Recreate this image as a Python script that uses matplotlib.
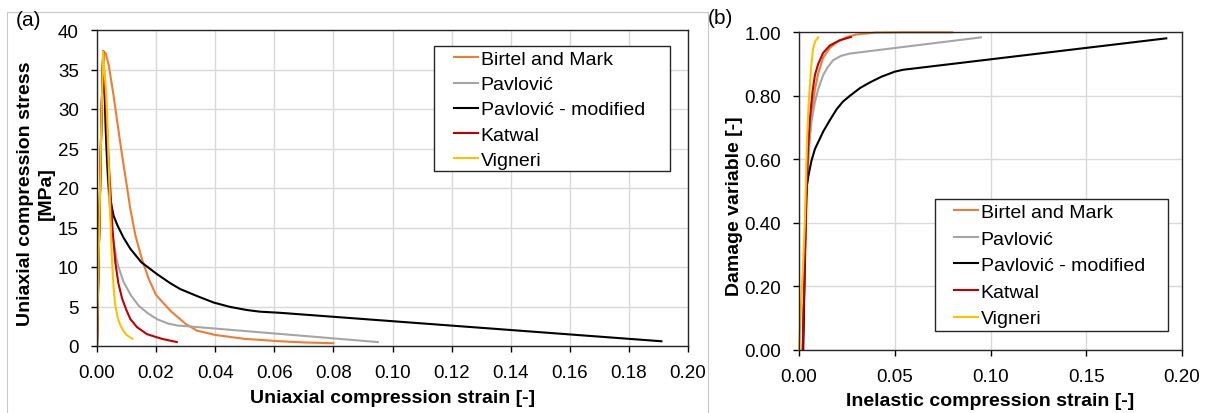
import matplotlib
matplotlib.use("Agg")
import matplotlib.pyplot as plt
from matplotlib.patches import Rectangle
from matplotlib.ticker import FormatStrFormatter, MultipleLocator

plt.rcParams['font.family'] = ['Liberation Sans', 'DejaVu Sans']

labels = ["Birtel and Mark", "Pavlović", "Pavlović - modified", "Katwal", "Vigneri"]
colors = ["#ED7D31", "#A5A5A5", "#000000", "#C00000", "#FFC000"]

# (a) stress-strain
bm_x = [0, 0.0005, 0.001, 0.0015, 0.0019, 0.0023, 0.003, 0.004, 0.0056, 0.007, 0.0085, 0.010, 0.0113, 0.013,
        0.0152, 0.0175, 0.020, 0.025, 0.030, 0.0338, 0.040, 0.050, 0.062, 0.070, 0.080]
bm_y = [0, 10, 19, 28, 35, 37.3, 37.0, 35.5, 31.7, 28.0, 24.1, 20.5, 17.3, 14.0,
        11.0, 8.5, 6.45, 4.4, 2.8, 1.95, 1.4, 0.9, 0.6, 0.45, 0.35]
pav_x = [0, 0.0005, 0.001, 0.0015, 0.0021, 0.0025, 0.003, 0.0035, 0.004, 0.0048, 0.0056, 0.007, 0.009, 0.0115,
         0.0141, 0.017, 0.0203, 0.024, 0.027, 0.0338, 0.095]
pav_y = [0, 10, 19, 29, 37.3, 33, 27, 22, 19, 15.5, 13.1, 10.3, 8.1, 6.4,
         5.1, 4.2, 3.4, 2.85, 2.6, 2.4, 0.5]
pm_x = [0, 0.0005, 0.001, 0.0015, 0.0021, 0.0025, 0.003, 0.0035, 0.004, 0.0048, 0.0056, 0.007, 0.009, 0.0113,
        0.015, 0.0203, 0.025, 0.0282, 0.034, 0.0395, 0.045, 0.0508, 0.055, 0.062, 0.191]
pm_y = [0, 10, 19, 29, 37.3, 33, 27, 23, 20, 18, 16.5, 15.2, 13.7, 12.3,
        10.6, 9.1, 7.9, 7.2, 6.3, 5.5, 4.95, 4.55, 4.35, 4.2, 0.6]
kat_x = [0, 0.0005, 0.001, 0.0015, 0.0021, 0.0025, 0.003, 0.0034, 0.004, 0.0045, 0.0053, 0.0062, 0.0072, 0.0085,
         0.010, 0.0113, 0.0135, 0.0169, 0.022, 0.027]
kat_y = [0, 10, 19, 29, 37.3, 34, 30.5, 27.5, 23, 19.9, 14.5, 10.6, 8.0, 6.0,
         4.5, 3.4, 2.4, 1.5, 0.9, 0.5]
vig_x = [0, 0.0005, 0.001, 0.0015, 0.0021, 0.0025, 0.003, 0.0034, 0.0038, 0.0043, 0.0047, 0.0051, 0.0056, 0.0062,
         0.007, 0.0079, 0.009, 0.010, 0.012]
vig_y = [0, 10, 19, 29, 37.3, 35, 32.5, 29.6, 25, 19.0, 14.5, 10.6, 7.5, 5.1,
         3.6, 2.6, 1.9, 1.4, 0.9]

# (b) damage - inelastic strain
bm_d_x = [0.002, 0.003, 0.004, 0.005, 0.006, 0.007, 0.0083, 0.010, 0.0126, 0.016, 0.020, 0.025, 0.030, 0.040, 0.055, 0.080]
bm_d_y = [0, 0.25, 0.50, 0.62, 0.70, 0.76, 0.82, 0.87, 0.92, 0.95, 0.97, 0.985, 0.993, 0.999, 1.0, 1.0]
pav_d_x = [0.002, 0.003, 0.004, 0.0048, 0.0055, 0.0065, 0.0083, 0.010, 0.0126, 0.015, 0.0178, 0.022, 0.0265, 0.095]
pav_d_y = [0, 0.25, 0.50, 0.60, 0.66, 0.72, 0.78, 0.82, 0.865, 0.89, 0.912, 0.926, 0.933, 0.984]
pm_d_x = [0.0022, 0.0028, 0.0033, 0.0037, 0.0042, 0.0049, 0.0065, 0.0083, 0.0105, 0.0127, 0.016, 0.0197, 0.023,
          0.0266, 0.032, 0.037, 0.043, 0.050, 0.0544, 0.1918]
pm_d_y = [0, 0.2, 0.38, 0.475, 0.52, 0.548, 0.595, 0.632, 0.66, 0.688, 0.722, 0.758, 0.782,
          0.80, 0.825, 0.842, 0.86, 0.876, 0.882, 0.981]
kat_d_x = [0.0019, 0.003, 0.004, 0.0048, 0.0057, 0.007, 0.0083, 0.010, 0.0126, 0.016, 0.0213, 0.0271]
kat_d_y = [0, 0.28, 0.518, 0.64, 0.728, 0.81, 0.865, 0.90, 0.935, 0.958, 0.975, 0.985]
vig_d_x = [0, 0.0009, 0.002, 0.0031, 0.0037, 0.0043, 0.005, 0.0057, 0.0065, 0.0074, 0.0085, 0.010]
vig_d_y = [0, 0.118, 0.25, 0.41, 0.55, 0.676, 0.77, 0.834, 0.90, 0.95, 0.972, 0.984]

W, H = 1215, 414
fig = plt.figure(figsize=(W / 100, H / 100), dpi=100)


def fx(px):
    return px / W


def fy(py):
    return 1 - py / H


fig.patches.append(Rectangle((fx(6.5), -0.02), fx(701), fy(13.3) + 0.02,
                             transform=fig.transFigure, fill=False,
                             edgecolor="#C8C8C8", linewidth=0.8))

axa = fig.add_axes([fx(97), fy(347), fx(591), 316 / H])
axb = fig.add_axes([fx(799), fy(350.7), fx(383), 317.4 / H])

left_series = [(bm_x, bm_y), (pav_x, pav_y), (pm_x, pm_y), (kat_x, kat_y), (vig_x, vig_y)]
right_series = [(bm_d_x, bm_d_y), (pav_d_x, pav_d_y), (pm_d_x, pm_d_y), (kat_d_x, kat_d_y), (vig_d_x, vig_d_y)]

for (x, y), lab, c in zip(left_series, labels, colors):
    axa.plot(x, y, color=c, lw=1.5, label=lab, solid_joinstyle="round")
for (x, y), lab, c in zip(right_series, labels, colors):
    axb.plot(x, y, color=c, lw=1.5, label=lab, clip_on=False, solid_joinstyle="round")

for ax in (axa, axb):
    ax.grid(True, color="#D9D9D9", lw=1.0)
    ax.set_axisbelow(True)
    for s in ax.spines.values():
        s.set_color("#262626")
        s.set_linewidth(1.0)
    ax.tick_params(direction="out", length=4, width=1, colors="black", labelsize=13.5, pad=9)

axa.set_xlim(0, 0.2)
axa.set_ylim(0, 40)
axa.xaxis.set_major_locator(MultipleLocator(0.02))
axa.yaxis.set_major_locator(MultipleLocator(5))
axa.xaxis.set_major_formatter(FormatStrFormatter("%.2f"))
axa.yaxis.set_major_formatter(FormatStrFormatter("%d"))
axa.set_xlabel("Uniaxial compression strain [-]", fontsize=14, fontweight="bold", labelpad=6)
axa.set_ylabel("Uniaxial compression stress\n[MPa]", fontsize=14, fontweight="bold", labelpad=2,
               linespacing=1.3)
axa.yaxis.label.set_y(0.484)

axb.set_xlim(0, 0.2)
axb.set_ylim(0, 1.0)
axb.xaxis.set_major_locator(MultipleLocator(0.05))
axb.yaxis.set_major_locator(MultipleLocator(0.2))
axb.xaxis.set_major_formatter(FormatStrFormatter("%.2f"))
axb.yaxis.set_major_formatter(FormatStrFormatter("%.2f"))
axb.set_xlabel("Inelastic compression strain [-]", fontsize=14, fontweight="bold", labelpad=5)
axb.set_ylabel("Damage variable [-]", fontsize=14, fontweight="bold", labelpad=1)
axb.yaxis.label.set_y(0.456)

# legends: frameless text blocks + separately drawn frames
leg_kw = dict(loc="upper left", borderaxespad=0, borderpad=0, fontsize=14,
              handlelength=1.25, handletextpad=0.12, frameon=False,
              bbox_transform=fig.transFigure)
lega = axa.legend(bbox_to_anchor=(fx(454), fy(51.5)), labelspacing=0.39, **leg_kw)
legb = axb.legend(bbox_to_anchor=(fx(954), fy(204.5)), labelspacing=0.46, **leg_kw)

axa.add_patch(Rectangle((fx(434), fy(172)), fx(236), 125 / H, transform=fig.transFigure,
                        facecolor="white", edgecolor="#262626", linewidth=1.0, zorder=4,
                        clip_on=False))
axb.add_patch(Rectangle((fx(934.5), fy(331.7)), fx(233), 131.7 / H, transform=fig.transFigure,
                        facecolor="white", edgecolor="#262626", linewidth=1.0, zorder=4,
                        clip_on=False))

fig.text(fx(16), fy(21), "(a)", fontsize=15, va="center", ha="left")
fig.text(fx(708), fy(19), "(b)", fontsize=15, va="center", ha="left")

fig.savefig("out.png", dpi=100)
